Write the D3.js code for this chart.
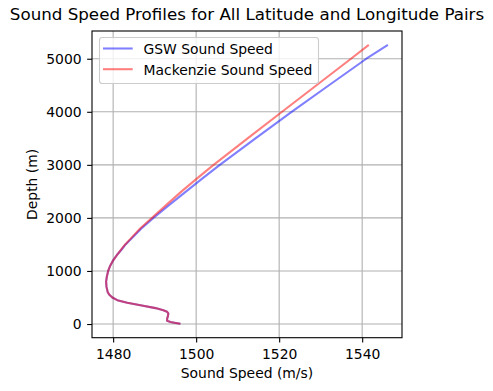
<!DOCTYPE html>
<html>
<head>
<meta charset="utf-8">
<script src="https://cdn.jsdelivr.net/npm/d3@7"></script>
<style>
  html, body { margin: 0; padding: 0; background: #fff; }
  text { font-family: "DejaVu Sans", sans-serif; fill: #000; }
</style>
</head>
<body>
<script>
// ---- data ----
const depths = [5, 20, 40, 60, 100, 150, 200, 230, 260, 300, 350, 400, 450, 500, 550, 600, 700, 800, 900, 1000,
  1100, 1200, 1300, 1400, 1500, 1600, 1800, 2000, 2250, 2500, 2750, 3000, 3500, 4000, 4500, 5000, 5260];
const gswSpeed = [1496.2, 1495.1, 1493.8, 1493.0, 1493.0, 1493.2, 1493.3, 1493.0, 1492.1, 1490.2, 1486.9, 1483.4, 1481.0, 1479.8, 1479.1, 1478.7, 1478.4, 1478.3, 1478.5, 1478.8,
  1479.3, 1480.0, 1480.9, 1482.0, 1483.0, 1484.3, 1486.8, 1489.7, 1493.6, 1497.6, 1501.6, 1505.7, 1514.3, 1523.0, 1532.0, 1541.0, 1546.2];
const mackenzieSpeed = [1496.2, 1495.1, 1493.8, 1493.0, 1493.0, 1493.2, 1493.3, 1493.0, 1492.1, 1490.2, 1486.9, 1483.4, 1481.0, 1479.8, 1479.1, 1478.7, 1478.4, 1478.3, 1478.5, 1478.8,
  1479.3, 1480.0, 1480.9, 1481.9, 1482.9, 1484.1, 1486.5, 1489.3, 1492.9, 1496.5, 1500.3, 1504.2, 1512.4, 1520.7, 1529.0, 1537.3, 1541.6];
const xTicks = [1480, 1500, 1520, 1540];
const yTicks = [0, 1000, 2000, 3000, 4000, 5000];
const seriesNames = ["GSW Sound Speed", "Mackenzie Sound Speed"];
const seriesColors = ["rgba(0,0,255,0.5)", "rgba(255,0,0,0.5)"];

// ---- layout ----
const W = 493, H = 391;
const mLeft = 92, mRight = 402, mTop = 31, mBottom = 337.7;
const FS = 13.9;

const svg = d3.select("body").append("svg").attr("width", W).attr("height", H);

function padded(ext) {
  const s = ext[1] - ext[0];
  return [ext[0] - 0.05 * s, ext[1] + 0.05 * s];
}
const allSpeeds = gswSpeed.concat(mackenzieSpeed);
const x = d3.scaleLinear().domain(padded(d3.extent(allSpeeds))).range([mLeft, mRight]);
const y = d3.scaleLinear().domain(padded(d3.extent(depths))).range([mBottom, mTop]);

// grid
const grid = svg.append("g");
grid.selectAll("line.vx").data(xTicks).join("line")
  .attr("x1", d => x(d)).attr("x2", d => x(d)).attr("y1", mTop).attr("y2", mBottom)
  .attr("stroke", "#b0b0b0").attr("stroke-width", 1.1);
grid.selectAll("line.hy").data(yTicks).join("line")
  .attr("x1", mLeft).attr("x2", mRight).attr("y1", d => y(d)).attr("y2", d => y(d))
  .attr("stroke", "#b0b0b0").attr("stroke-width", 1.1);

// lines
const series = [gswSpeed, mackenzieSpeed];
const line = d3.line().x(d => x(d[0])).y(d => y(d[1]));
series.forEach((s, i) => {
  svg.append("path")
    .attr("d", line(s.map((v, j) => [v, depths[j]])))
    .attr("fill", "none").attr("stroke", seriesColors[i]).attr("stroke-width", 2.08)
    .attr("stroke-linejoin", "round").attr("stroke-linecap", "butt");
});

// axes
const xAxis = d3.axisBottom(x).tickValues(xTicks).tickSize(4.86).tickPadding(4.86).tickFormat(d3.format("d"));
const yAxis = d3.axisLeft(y).tickValues(yTicks).tickSize(4.86).tickPadding(5.5).tickFormat(d3.format("d"));
const gx = svg.append("g").attr("transform", `translate(0,${mBottom})`).call(xAxis);
const gy = svg.append("g").attr("transform", `translate(${mLeft},0)`).call(yAxis);
[gx, gy].forEach(g => {
  g.select(".domain").remove();
  g.selectAll(".tick line").attr("stroke", "#000").attr("stroke-width", 1.1);
  g.selectAll(".tick text").attr("font-size", FS).attr("font-family", "DejaVu Sans").attr("fill", "#000");
});
gx.selectAll(".tick text").attr("y", 21.6).attr("dy", 0);

// frame
svg.append("rect").attr("x", mLeft).attr("y", mTop).attr("width", mRight - mLeft).attr("height", mBottom - mTop)
  .attr("fill", "none").attr("stroke", "#000").attr("stroke-width", 1.1);

// title & labels
svg.append("text").attr("x", (mLeft + mRight) / 2).attr("y", 20).attr("text-anchor", "middle")
  .attr("font-size", 16.7).text("Sound Speed Profiles for All Latitude and Longitude Pairs");
svg.append("text").attr("x", (mLeft + mRight) / 2).attr("y", 377.5).attr("text-anchor", "middle")
  .attr("font-size", FS).text("Sound Speed (m/s)");
svg.append("text").attr("transform", `translate(37,${(mTop + mBottom) / 2}) rotate(-90)`)
  .attr("text-anchor", "middle").attr("font-size", FS).text("Depth (m)");

// legend
const lg = svg.append("g");
lg.append("rect").attr("x", 99.5).attr("y", 37.5).attr("width", 219).attr("height", 46).attr("rx", 2.8)
  .attr("fill", "rgba(255,255,255,0.8)").attr("stroke", "#cccccc").attr("stroke-width", 1.1);
seriesNames.forEach((n, i) => {
  const yy = 48.5 + i * 20.7;
  lg.append("line").attr("x1", 103).attr("x2", 132.7).attr("y1", yy).attr("y2", yy)
    .attr("stroke", seriesColors[i]).attr("stroke-width", 2.08);
  lg.append("text").attr("x", 143.5).attr("y", yy + 5.3).attr("font-size", FS).text(n);
});
</script>
</body>
</html>
